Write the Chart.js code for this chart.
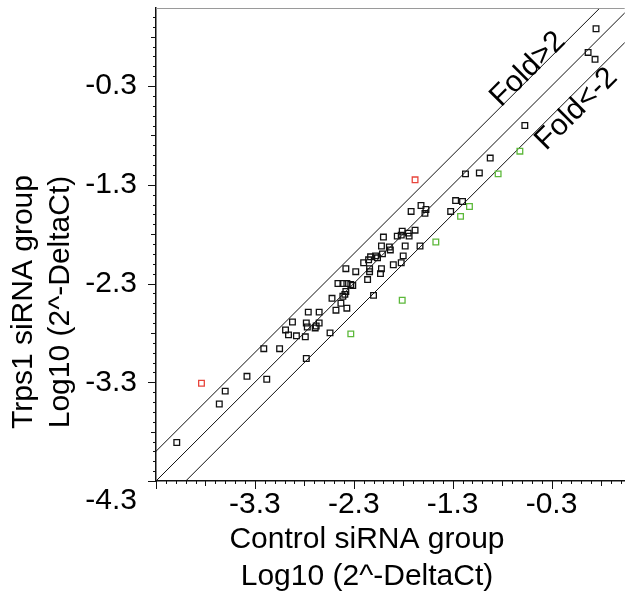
<!DOCTYPE html>
<html>
<head>
<meta charset="utf-8">
<script src="https://cdn.jsdelivr.net/npm/chart.js@4.4.1/dist/chart.umd.min.js"></script>
<style>
  html, body { margin: 0; padding: 0; background: #fff; }
  #wrap { width: 630px; height: 595px; }
</style>
</head>
<body>
<div id="wrap"><canvas id="chart" width="630" height="595"></canvas></div>
<script>
// axis ranges and tick labels
const axisMin = -4.3;
const xMax = 0.44;
const yMax = 0.49;
const xTickValues = [-3.3, -2.3, -1.3, -0.3];
const yTickValues = [-4.3, -3.3, -2.3, -1.3, -0.3];

// control group (x) vs Trps1 group (y), unchanged genes
const controlNs = [0.15, 0.07, 0.14, -0.57, -0.92, -1.03, -1.17, -1.27, -1.20, -1.62,
  -1.72, -1.57, -1.58, -1.32, -1.68, -1.81, -1.75, -1.86, -1.82, -1.74,
  -2.00, -1.94, -1.78, -1.63, -2.02, -1.93, -2.01, -1.80, -2.08, -2.06,
  -2.13, -2.15, -2.20, -1.82, -1.90, -2.14, -2.14, -2.02, -2.03, -2.38,
  -2.28, -2.16, -2.46, -2.41, -2.37, -2.33, -2.31, -2.38, -2.39, -2.41,
  -2.52, -2.43, -2.48, -2.37, -2.76, -2.65, -2.92, -2.78, -2.77, -2.65,
  -2.68, -2.69, -2.99, -2.96, -2.88, -2.79, -2.54, -3.21, -3.05, -2.78,
  -3.38, -3.18, -3.60, -3.66, -4.09, -2.10];
const trps1Ns = [0.28, 0.04, -0.03, -0.70, -1.03, -1.18, -1.19, -1.46, -1.47, -1.51,
  -1.57, -1.55, -1.59, -1.57, -1.76, -1.77, -1.79, -1.82, -1.81, -1.82,
  -1.83, -1.93, -1.92, -1.92, -1.92, -1.96, -2.00, -2.02, -2.02, -2.04,
  -2.03, -2.06, -2.09, -2.09, -2.11, -2.15, -2.18, -2.15, -2.20, -2.15,
  -2.18, -2.26, -2.30, -2.30, -2.30, -2.31, -2.32, -2.38, -2.41, -2.43,
  -2.45, -2.50, -2.57, -2.55, -2.59, -2.59, -2.69, -2.70, -2.74, -2.70,
  -2.73, -2.75, -2.77, -2.82, -2.83, -2.84, -2.80, -2.96, -2.96, -3.06,
  -3.24, -3.27, -3.39, -3.52, -3.91, -2.42];

// up-regulated
const controlUp = [-1.68, -3.84];
const trps1Up = [-1.25, -3.31];

// down-regulated
const controlDown = [-0.62, -0.84, -1.13, -1.22, -1.47, -2.33, -1.81];
const trps1Down = [-0.96, -1.19, -1.52, -1.62, -1.88, -2.81, -2.47];

// reference lines y = x + offset, log10(2) = 0.301
const foldOffsets = [0.301, 0, -0.301];
const foldLabels = ['Fold>2', 'Fold<-2'];

const FONT = "'Liberation Sans', Arial, sans-serif";

function toPoints(xs, ys) {
  return xs.map((x, i) => ({ x: x, y: ys[i] }));
}

function pointSet(xs, ys, color) {
  return {
    data: toPoints(xs, ys),
    pointStyle: 'rect',
    pointRadius: 4,
    pointBorderWidth: 1.3,
    borderColor: color,
    backgroundColor: 'transparent',
    showLine: false
  };
}

const lineSets = foldOffsets.map(off => ({
  data: [{ x: axisMin, y: axisMin + off }, { x: 0.6, y: 0.6 + off }],
  showLine: true,
  borderColor: '#111',
  borderWidth: 1,
  pointRadius: 0
}));

// tick marks, axis titles, top frame line, fold labels
const decor = {
  id: 'decor',
  afterDraw(chart) {
    const ctx = chart.ctx;
    const area = chart.chartArea;
    const xs = chart.scales.x;
    const ys = chart.scales.y;
    ctx.save();

    // top frame
    ctx.strokeStyle = '#9a9a9a';
    ctx.lineWidth = 1;
    ctx.beginPath();
    ctx.moveTo(area.left, area.top + 0.5);
    ctx.lineTo(area.right, area.top + 0.5);
    ctx.stroke();

    // tick marks every 0.1
    ctx.strokeStyle = '#111';
    ctx.lineWidth = 1;
    const len = i => (i % 10 === 0 ? 8 : i % 5 === 0 ? 5 : 3);
    for (let i = 0; axisMin + i * 0.1 <= xMax + 1e-9; i++) {
      const px = Math.round(xs.getPixelForValue(axisMin + i * 0.1)) + 0.5;
      ctx.beginPath();
      ctx.moveTo(px, area.bottom);
      ctx.lineTo(px, area.bottom + len(i));
      ctx.stroke();
    }
    for (let i = 0; axisMin + i * 0.1 <= yMax + 1e-9; i++) {
      const py = Math.round(ys.getPixelForValue(axisMin + i * 0.1)) + 0.5;
      ctx.beginPath();
      ctx.moveTo(area.left, py);
      ctx.lineTo(area.left - len(i), py);
      ctx.stroke();
    }

    // axis titles
    ctx.fillStyle = '#000';
    ctx.font = '30px ' + FONT;
    ctx.textAlign = 'center';
    ctx.textBaseline = 'middle';
    ctx.fillText('Control siRNA group', 367, 540);
    ctx.fillText('Log10 (2^-DeltaCt)', 367, 577);
    ctx.save();
    ctx.translate(24, 302);
    ctx.rotate(-Math.PI / 2);
    ctx.fillText('Trps1 siRNA group', 0, 0);
    ctx.fillText('Log10 (2^-DeltaCt)', 0, 37);
    ctx.restore();

    // fold labels along the lines
    const anchors = [
      { off: foldOffsets[0], at: -0.485, shift: -7.5 },
      { off: foldOffsets[2], at: -0.14, shift: 13 }
    ];
    anchors.forEach((a, k) => {
      const p1 = { x: xs.getPixelForValue(a.at), y: ys.getPixelForValue(a.at + a.off) };
      const p2 = { x: xs.getPixelForValue(a.at + 1), y: ys.getPixelForValue(a.at + 1 + a.off) };
      const ang = Math.atan2(p2.y - p1.y, p2.x - p1.x);
      ctx.save();
      ctx.translate(p1.x, p1.y);
      ctx.rotate(ang);
      ctx.fillText(foldLabels[k], 0, a.shift);
      ctx.restore();
    });

    ctx.restore();
  }
};

new Chart(document.getElementById('chart'), {
  type: 'scatter',
  data: {
    datasets: [
      pointSet(controlUp, trps1Up, '#e8453c'),
      pointSet(controlDown, trps1Down, '#5cb83a'),
      pointSet(controlNs, trps1Ns, '#111'),
      ...lineSets
    ]
  },
  options: {
    responsive: false,
    animation: false,
    layout: { padding: { top: 8, right: 0, bottom: 0, left: 0 } },
    plugins: {
      legend: { display: false },
      tooltip: { enabled: false }
    },
    scales: {
      x: {
        type: 'linear',
        min: axisMin,
        max: xMax,
        afterBuildTicks: s => { s.ticks = xTickValues.map(v => ({ value: v })); },
        afterFit: s => { s.height = 114; s.paddingLeft = 0; s.paddingRight = 0; },
        grid: { display: false },
        border: { display: true, color: '#111', width: 1.5 },
        ticks: {
          color: '#000',
          padding: -2,
          maxRotation: 0,
          font: { family: FONT, size: 30 },
          callback: v => v.toFixed(1)
        }
      },
      y: {
        type: 'linear',
        min: axisMin,
        max: yMax,
        afterBuildTicks: s => { s.ticks = yTickValues.map(v => ({ value: v })); },
        afterFit: s => { s.width = 156; s.paddingTop = 0; s.paddingBottom = 0; },
        grid: { display: false },
        border: { display: true, color: '#111', width: 1.5 },
        ticks: {
          color: '#000',
          padding: 11,
          font: { family: FONT, size: 30, lineHeight: '40px' },
          // the lowest label sits below the corner, as in the source figure
          callback: v => (Math.abs(v - axisMin) < 1e-6 ? ['', v.toFixed(1)] : v.toFixed(1))
        }
      }
    }
  },
  plugins: [decor]
});
</script>
</body>
</html>
